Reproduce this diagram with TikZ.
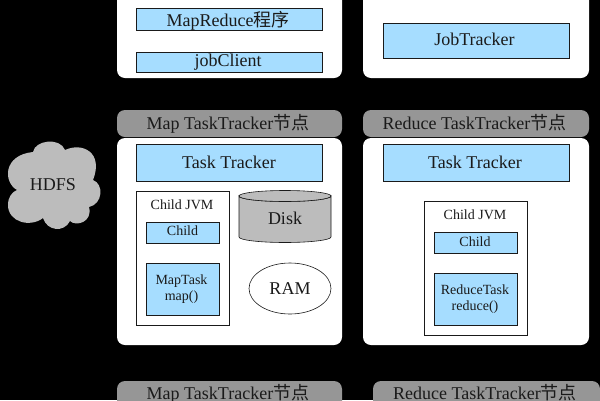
\documentclass[tikz,border=0pt]{standalone}
\usepackage{fontspec}
\setmainfont{Liberation Serif}
\newfontfamily\cjk{Noto Sans CJK SC}
\definecolor{bluefill}{HTML}{A6DDFF}
\definecolor{headgrey}{HTML}{969696}
\definecolor{partgrey}{HTML}{BCBCBC}
\definecolor{ink}{HTML}{1A1A1A}
\tikzset{
  panel/.style={fill=white,rounded corners=8pt,draw=none},
  header/.style={fill=headgrey,rounded corners=8pt,draw=none},
  bluebox/.style={fill=bluefill,draw=ink,line width=0.7pt},
  jvmbox/.style={fill=white,draw=ink,line width=0.7pt},
  part/.style={fill=partgrey,draw=ink,line width=0.6pt},
  lbl/.style={text=ink,inner sep=0pt,anchor=base,font=\fontsize{#1}{#1}\selectfont},
  lbl/.default=18
}
\begin{document}
\begin{tikzpicture}[x=1pt,y=-1pt]
\useasboundingbox (0,0) rectangle (600,400);
\fill[black] (0,0) rectangle (600,400);

% top row: client and job tracker machines
\path[panel] (117,-12) rectangle (342,78);
\path[panel] (363,-12) rectangle (589,78);
\draw[bluebox] (136,8) rectangle (322,30);
\node[lbl] (mr) at (228,26) {MapReduce{\cjk 程序}};
\draw[bluebox] (136,52) rectangle (322,72);
\node[lbl] (jc) at (228,66.7) {jobClient};
\draw[bluebox] (383,23) rectangle (569,58);
\node[lbl] (jt) at (474.5,45) {JobTracker};

% middle row headers
\path[header] (117,110) rectangle (342,137);
\node[lbl] (hm) at (228,129) {Map TaskTracker{\cjk 节点}};
\path[header] (363,110) rectangle (589,137);
\node[lbl] (hr) at (474.5,129) {Reduce TaskTracker{\cjk 节点}};

% middle row panels
\path[panel] (117,138) rectangle (342,345);
\path[panel] (363,138) rectangle (589,345);
\draw[bluebox] (136,144) rectangle (322,181);
\node[lbl] (ttl) at (229,168) {Task Tracker};
\draw[bluebox] (383,144) rectangle (569,181);
\node[lbl] (ttr) at (475,168) {Task Tracker};

% map side child JVM
\draw[jvmbox] (136,191) rectangle (229,325);
\node[lbl=14] (jvml) at (182,209) {Child JVM};
\draw[bluebox] (146,222) rectangle (219,243);
\node[lbl=14] (cl) at (182.5,235.7) {Child};
\draw[bluebox] (146,263) rectangle (219,315);
\node[lbl=14] (mt) at (181.5,284) {MapTask};
\node[lbl=14] (mf) at (181.5,300.7) {map()};

% disk and RAM
\draw[part] (239,196) -- (239,237) arc[start angle=180,end angle=0,x radius=46,y radius=5.5] -- (331,196) arc[start angle=0,end angle=180,x radius=46,y radius=5.5] -- cycle;
\draw[part] (285,196) ellipse[x radius=46,y radius=5.5];
\node[lbl] (disk) at (285,224) {Disk};
\draw[fill=white,draw=ink,line width=0.6pt] (290,288.5) ellipse[x radius=41,y radius=25.5];
\node[lbl] (ram) at (290,294) {RAM};

% reduce side child JVM
\draw[jvmbox] (424,201) rectangle (527,335);
\node[lbl=14] (jvmr) at (475,219) {Child JVM};
\draw[bluebox] (434,232) rectangle (517,253);
\node[lbl=14] (cr) at (475,246) {Child};
\draw[bluebox] (434,273) rectangle (517,325);
\node[lbl=14] (rt) at (475,294) {ReduceTask};
\node[lbl=14] (rf) at (475,310.7) {reduce()};

% HDFS cloud
\fill[partgrey] (17,190)
  .. controls (3,182) and (3,155) .. (33,152)
  .. controls (35,140) and (60,137) .. (65,150)
  .. controls (82,142) and (104,152) .. (93,180)
  .. controls (104,184) and (103,204) .. (89,207)
  .. controls (93,222) and (76,227) .. (70,221)
  .. controls (64,233) and (47,231) .. (43,218)
  .. controls (30,228) and (8,222) .. (8,205)
  .. controls (8,197) and (12,192) .. (17,190) -- cycle;
\node[lbl] (hdfs) at (53,190.7) {HDFS};

% bottom row headers, cut by the lower edge
\path[header] (117,381) rectangle (342,412);
\node[lbl] (bm) at (228,399) {Map TaskTracker{\cjk 节点}};
\path[header] (373,381) rectangle (600,412);
\node[lbl] (br) at (485,399) {Reduce TaskTracker{\cjk 节点}};
\end{tikzpicture}
\end{document}
